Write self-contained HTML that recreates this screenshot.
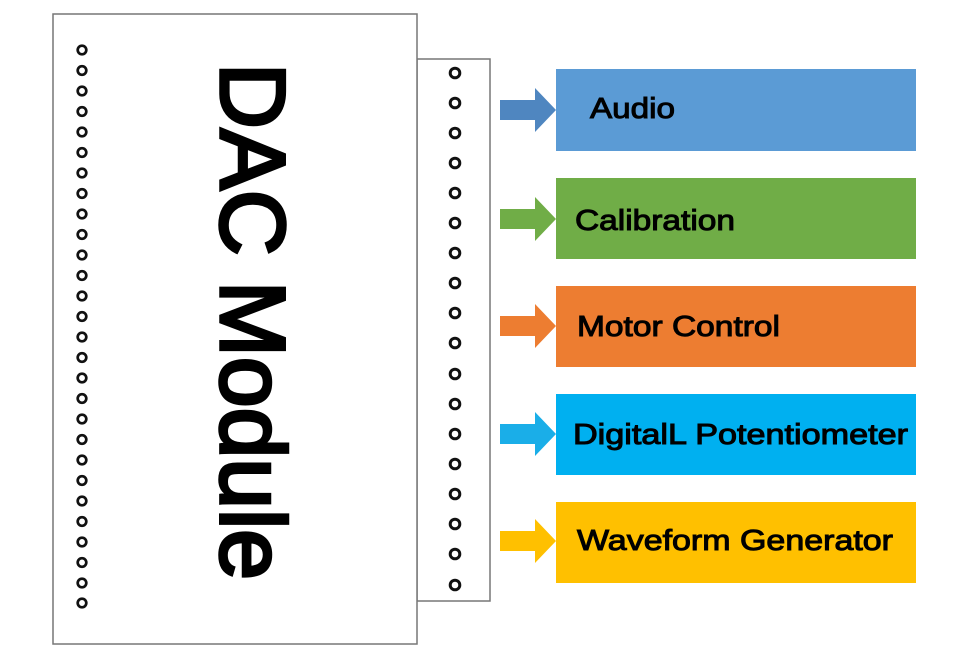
<!DOCTYPE html>
<html><head><meta charset="utf-8"><style>html,body{margin:0;padding:0;background:#fff}svg{display:block}</style></head>
<body>
<svg width="972" height="653" viewBox="0 0 972 653" xmlns="http://www.w3.org/2000/svg" font-family="Liberation Sans, Arial, sans-serif">
<rect x="417" y="59" width="73" height="542" fill="#fff" stroke="#777" stroke-width="1.5"/>
<rect x="53" y="14" width="364" height="630" fill="#fff" stroke="#777" stroke-width="1.5"/>
<text transform="translate(221,63) rotate(90)" font-size="92" textLength="517" lengthAdjust="spacingAndGlyphs" fill="#000" stroke="#000" stroke-width="3.5">DAC Module</text>
<g>
<rect x="556" y="69" width="360" height="82" fill="#5b9bd5"/>
<rect x="556" y="178" width="360" height="81" fill="#70ad47"/>
<rect x="556" y="286" width="360" height="81" fill="#ed7d31"/>
<rect x="556" y="394" width="360" height="81" fill="#00b0f0"/>
<rect x="556" y="502" width="360" height="81" fill="#ffc000"/>
</g>
<g>
<path d="M500 100h35v-12l21 22-21 22v-12h-35z" fill="#4f86c0"/>
<path d="M500 209h35v-12l21 22-21 22v-12h-35z" fill="#70ad47"/>
<path d="M500 316h35v-12l21 22-21 22v-12h-35z" fill="#ed7d31"/>
<path d="M500 424h35v-12l21 22-21 22v-12h-35z" fill="#1aaee8"/>
<path d="M500 531h35v-12l21 22-21 22v-12h-35z" fill="#ffc000"/>
</g>
<g font-size="29" fill="#000" stroke="#000" stroke-width="1">
<text x="590" y="118" textLength="85" lengthAdjust="spacingAndGlyphs">Audio</text>
<text x="575" y="230" textLength="160" lengthAdjust="spacingAndGlyphs">Calibration</text>
<text x="577" y="336" textLength="203" lengthAdjust="spacingAndGlyphs">Motor Control</text>
<text x="573" y="444" textLength="335" lengthAdjust="spacingAndGlyphs">DigitalL Potentiometer</text>
<text x="577" y="550" textLength="316" lengthAdjust="spacingAndGlyphs">Waveform Generator</text>
</g>
<g fill="none" stroke="#111" stroke-width="2.7">
<circle cx="82" cy="50" r="4.3"/><circle cx="82" cy="70.5" r="4.3"/><circle cx="82" cy="91" r="4.3"/><circle cx="82" cy="111.5" r="4.3"/><circle cx="82" cy="132" r="4.3"/><circle cx="82" cy="152.5" r="4.3"/><circle cx="82" cy="173" r="4.3"/><circle cx="82" cy="193.5" r="4.3"/><circle cx="82" cy="214" r="4.3"/><circle cx="82" cy="234.5" r="4.3"/><circle cx="82" cy="255" r="4.3"/><circle cx="82" cy="275.5" r="4.3"/><circle cx="82" cy="296" r="4.3"/><circle cx="82" cy="316.5" r="4.3"/><circle cx="82" cy="337" r="4.3"/><circle cx="82" cy="357.5" r="4.3"/><circle cx="82" cy="378" r="4.3"/><circle cx="82" cy="398.5" r="4.3"/><circle cx="82" cy="419" r="4.3"/><circle cx="82" cy="439.5" r="4.3"/><circle cx="82" cy="460" r="4.3"/><circle cx="82" cy="480.5" r="4.3"/><circle cx="82" cy="501" r="4.3"/><circle cx="82" cy="521.5" r="4.3"/><circle cx="82" cy="542" r="4.3"/><circle cx="82" cy="562.5" r="4.3"/><circle cx="82" cy="583" r="4.3"/><circle cx="82" cy="603" r="4.3"/>
</g>
<g fill="none" stroke="#111" stroke-width="3">
<circle cx="455" cy="73" r="4.8"/><circle cx="455" cy="103" r="4.8"/><circle cx="455" cy="133" r="4.8"/><circle cx="455" cy="163" r="4.8"/><circle cx="455" cy="193" r="4.8"/><circle cx="455" cy="223" r="4.8"/><circle cx="455" cy="253" r="4.8"/><circle cx="455" cy="283" r="4.8"/><circle cx="455" cy="313" r="4.8"/><circle cx="455" cy="343" r="4.8"/><circle cx="455" cy="374" r="4.8"/><circle cx="455" cy="404" r="4.8"/><circle cx="455" cy="434" r="4.8"/><circle cx="455" cy="464" r="4.8"/><circle cx="455" cy="494" r="4.8"/><circle cx="455" cy="524" r="4.8"/><circle cx="455" cy="554" r="4.8"/><circle cx="455" cy="585" r="4.8"/>
</g>
</svg>
</body></html>
